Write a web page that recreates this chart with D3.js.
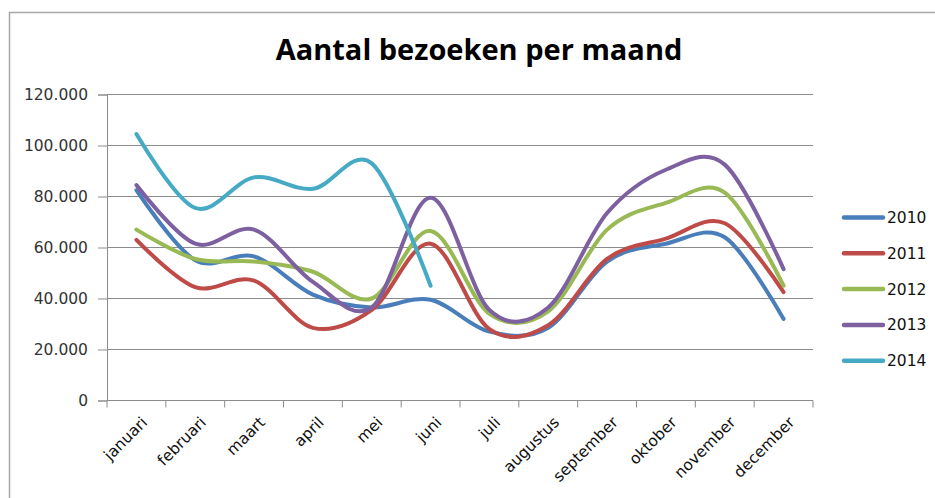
<!DOCTYPE html>
<html>
<head>
<meta charset="utf-8">
<script src="https://cdn.jsdelivr.net/npm/d3@7"></script>
<style>
    body { margin: 0; background: #fff; }
</style>
</head>
<body>
<div id="chart"></div>
<script>
// data
const months = ['januari', 'februari', 'maart', 'april', 'mei', 'juni', 'juli', 'augustus', 'september', 'oktober', 'november', 'december'];
const years = ['2010', '2011', '2012', '2013', '2014'];
const visits2010 = [82500, 55000, 56500, 41500, 36500, 39500, 27000, 28500, 54500, 61500, 64000, 32000];
const visits2011 = [63000, 44500, 47000, 28500, 35500, 61500, 28000, 29500, 55500, 63500, 69500, 42500];
const visits2012 = [67000, 55500, 54500, 50500, 40000, 66500, 34000, 35000, 67000, 77500, 81500, 45000];
const visits2013 = [84500, 61500, 67000, 46500, 36500, 79500, 35500, 36500, 73500, 90500, 92500, 51500];
const visits2014 = [104500, 75500, 87500, 83000, 93000, 45000];
const yTicks = [0, 20000, 40000, 60000, 80000, 100000, 120000];
const colors = ['#4a7ebb', '#be4b48', '#98b954', '#7d60a0', '#46aac5'];

const series = [visits2010, visits2011, visits2012, visits2013, visits2014]
    .map((values, i) => ({year: years[i], color: colors[i], values: values}));

const width = 935;
const height = 498;
const margin = {top: 94.5, right: 122, bottom: 97.5, left: 107};

const nl = d3.formatLocale({decimal: ',', thousands: '.', grouping: [3], currency: ['€', '']});
const fmt = nl.format(',');

const svg = d3.select('#chart')
    .append('svg')
        .attr('viewBox', [0, 0, width, height])
        .attr('width', width)
        .attr('height', height);

// outer chart border
svg.append('rect')
    .attr('x', 9.5)
    .attr('y', 12.5)
    .attr('width', width + 20)
    .attr('height', height + 20)
    .attr('fill', '#fff')
    .attr('stroke', '#a6a6a6')
    .attr('stroke-width', 1.5);

// title
svg.append('text')
    .attr('x', 479)
    .attr('y', 60)
    .attr('text-anchor', 'middle')
    .style('font-family', '"Open Sans", sans-serif')
    .style('font-weight', 700)
    .style('font-size', '29px')
    .attr('fill', '#000')
    .text('Aantal bezoeken per maand');

const x = d3.scaleBand()
    .domain(months)
    .range([margin.left, width - margin.right]);

const y = d3.scaleLinear()
    .domain([0, 120000])
    .range([height - margin.bottom, margin.top]);

// gridlines
svg.append('g')
    .attr('stroke', '#8c8c8c')
    .attr('stroke-width', 1)
    .selectAll('line')
    .data(yTicks.slice(1))
    .join('line')
        .attr('x1', margin.left)
        .attr('x2', width - margin.right)
        .attr('y1', d => y(d))
        .attr('y2', d => y(d));

// y axis
const yAxis = svg.append('g')
    .attr('transform', `translate(${margin.left}, 0)`)
    .call(d3.axisLeft(y).tickValues(yTicks).tickFormat(fmt).tickSize(9).tickPadding(10));
yAxis.selectAll('path, line').attr('stroke', '#8c8c8c');
yAxis.selectAll('text')
    .style('font-family', '"DejaVu Sans", sans-serif')
    .style('font-size', '15.5px')
    .attr('fill', '#333');

// x axis, ticks sit between the months
const xAxis = svg.append('g')
    .attr('transform', `translate(0, ${y(0)})`);
xAxis.append('line')
    .attr('x1', margin.left)
    .attr('x2', width - margin.right)
    .attr('stroke', '#8c8c8c');
xAxis.selectAll('.tick')
    .data(months.concat(['end']))
    .join('line')
        .attr('class', 'tick')
        .attr('x1', (d, i) => i < months.length ? x(d) : x.range()[1])
        .attr('x2', (d, i) => i < months.length ? x(d) : x.range()[1])
        .attr('y1', 0)
        .attr('y2', 7)
        .attr('stroke', '#8c8c8c');
xAxis.selectAll('.month')
    .data(months)
    .join('text')
        .attr('class', 'month')
        .attr('text-anchor', 'end')
        .attr('transform', d => `translate(${x(d) + x.bandwidth() / 2 + 8}, 19) rotate(-45)`)
        .attr('dy', '0.35em')
        .style('font-family', '"DejaVu Sans", sans-serif')
        .style('font-size', '15.5px')
        .attr('fill', '#111')
        .text(d => d);

// smoothed lines
const line = d3.line()
    .x((d, i) => x(months[i]) + x.bandwidth() / 2)
    .y(d => y(d))
    .curve(d3.curveCatmullRom.alpha(0));

svg.append('g')
    .selectAll('path')
    .data(series)
    .join('path')
        .attr('d', d => line(d.values))
        .attr('fill', 'none')
        .attr('stroke', d => d.color)
        .attr('stroke-width', 4)
        .attr('stroke-linecap', 'round')
        .attr('stroke-linejoin', 'round');

// legend
const legend = svg.append('g')
    .selectAll('g')
    .data(series)
    .join('g')
        .attr('transform', (d, i) => `translate(842, ${217.5 + i * 35.8})`);
legend.append('line')
    .attr('x1', 2)
    .attr('x2', 41)
    .attr('stroke', d => d.color)
    .attr('stroke-width', 4.5)
    .attr('stroke-linecap', 'round');
legend.append('text')
    .attr('x', 45)
    .attr('dy', '0.36em')
    .style('font-family', '"DejaVu Sans", sans-serif')
    .style('font-size', '15.5px')
    .attr('fill', '#111')
    .text(d => d.year);
</script>
</body>
</html>
